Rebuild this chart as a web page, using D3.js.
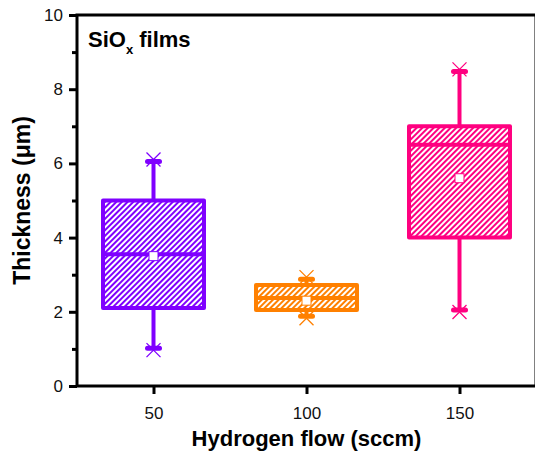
<!DOCTYPE html>
<html>
<head>
<meta charset="utf-8">
<script src="https://cdn.jsdelivr.net/npm/d3@7"></script>
<style>
  body { margin: 0; background: #fff; }
  svg { display: block; font-family: "Liberation Sans", Arial, sans-serif; }
</style>
</head>
<body>
<script>
const width = 535;
const height = 455;
const margin = { top: 15, right: -1, bottom: 69, left: 77 };

// Data
const categories = [50, 100, 150];
const whiskerLow = [1.02, 1.88, 2.05];
const q1 = [2.1, 2.05, 4.0];
const medians = [3.55, 2.37, 6.5];
const q3 = [5.0, 2.72, 7.0];
const whiskerHigh = [6.05, 2.88, 8.48];
const means = [3.5, 2.3, 5.6];
const colors = ['#7f00ff', '#ff8000', '#ff0080'];
const xTicks = [50, 100, 150];

const x = d3.scaleLinear().domain([25, 175]).range([margin.left, width - margin.right]);
const y = d3.scaleLinear().domain([0, 10]).range([height - margin.bottom, margin.top]);

const svg = d3.select('body').append('svg')
  .attr('width', width)
  .attr('height', height);

// hatch patterns
const defs = svg.append('defs');
colors.forEach((c, i) => {
  const p = defs.append('pattern')
    .attr('id', 'hatch' + i)
    .attr('patternUnits', 'userSpaceOnUse')
    .attr('width', 4)
    .attr('height', 4)
    .attr('patternTransform', 'rotate(45)');
  p.append('rect').attr('width', 4).attr('height', 4).attr('fill', '#fff');
  p.append('line')
    .attr('x1', 1).attr('y1', 0).attr('x2', 1).attr('y2', 4)
    .attr('stroke', c).attr('stroke-width', 2);
});

const halfW = 16.5; // box half width in sccm

const boxes = categories.map((c, i) => ({
  c, lo: whiskerLow[i], q1: q1[i], med: medians[i], q3: q3[i], hi: whiskerHigh[i], mean: means[i], color: colors[i], i
}));

const g = svg.append('g').selectAll('g').data(boxes).enter().append('g');

// whiskers
g.append('line')
  .attr('x1', d => x(d.c)).attr('x2', d => x(d.c))
  .attr('y1', d => y(d.hi)).attr('y2', d => y(d.q3))
  .attr('stroke', d => d.color).attr('stroke-width', 4);
g.append('line')
  .attr('x1', d => x(d.c)).attr('x2', d => x(d.c))
  .attr('y1', d => y(d.lo)).attr('y2', d => y(d.q1))
  .attr('stroke', d => d.color).attr('stroke-width', 4);

// caps
['hi', 'lo'].forEach(k => {
  g.append('line')
    .attr('x1', d => x(d.c) - 6).attr('x2', d => x(d.c) + 6)
    .attr('y1', d => y(d[k])).attr('y2', d => y(d[k]))
    .attr('stroke', d => d.color).attr('stroke-width', 5)
    .attr('stroke-linecap', 'round');
  // x markers
  g.append('path')
    .attr('d', d => {
      const cx = x(d.c), cy = y(d[k]) + (k === 'hi' ? -2 : 2), s = 7;
      return `M${cx - s},${cy - s}L${cx + s},${cy + s}M${cx - s},${cy + s}L${cx + s},${cy - s}`;
    })
    .attr('stroke', d => d.color).attr('stroke-width', 1.3).attr('fill', 'none');
});

// boxes
g.append('rect')
  .attr('x', d => x(d.c - halfW))
  .attr('width', d => x(d.c + halfW) - x(d.c - halfW))
  .attr('y', d => y(d.q3))
  .attr('height', d => y(d.q1) - y(d.q3))
  .attr('fill', d => `url(#hatch${d.i})`)
  .attr('stroke', d => d.color)
  .attr('stroke-width', 4)
  .attr('stroke-linejoin', 'round');

// medians
g.append('line')
  .attr('x1', d => x(d.c - halfW)).attr('x2', d => x(d.c + halfW))
  .attr('y1', d => y(d.med)).attr('y2', d => y(d.med))
  .attr('stroke', d => d.color).attr('stroke-width', 4);

// means
g.append('rect')
  .attr('x', d => x(d.c) - 4.5).attr('y', d => y(d.mean) - 4.5)
  .attr('width', 9).attr('height', 9)
  .attr('fill', '#fff')
  .attr('stroke', d => d.color).attr('stroke-width', 1);

// frame
svg.append('rect')
  .attr('x', margin.left).attr('y', margin.top)
  .attr('width', width - margin.right - margin.left)
  .attr('height', height - margin.bottom - margin.top)
  .attr('fill', 'none').attr('stroke', '#000').attr('stroke-width', 3);

// y axis
const yMajor = svg.append('g')
  .attr('transform', `translate(${margin.left},0)`)
  .call(d3.axisLeft(y).tickValues([0, 2, 4, 6, 8, 10]).tickSize(8).tickPadding(6).tickFormat(d3.format('d')));
const yMinor = svg.append('g')
  .attr('transform', `translate(${margin.left},0)`)
  .call(d3.axisLeft(y).tickValues([1, 3, 5, 7, 9]).tickSize(5).tickFormat(''));

// x axis
const xAxis = svg.append('g')
  .attr('transform', `translate(0,${height - margin.bottom})`)
  .call(d3.axisBottom(x).tickValues(xTicks).tickSize(8).tickPadding(13));

[yMajor, yMinor, xAxis].forEach(a => {
  a.select('.domain').remove();
  a.selectAll('line').attr('stroke', '#000').attr('stroke-width', 3);
  a.selectAll('text').attr('font-size', 17).attr('fill', '#111')
    .attr('font-family', '"Liberation Sans", Arial, sans-serif');
});

// titles
svg.append('text')
  .attr('transform', `translate(30,${(margin.top + height - margin.bottom) / 2}) rotate(-90)`)
  .attr('text-anchor', 'middle')
  .attr('font-size', 23).attr('font-weight', 'bold')
  .text('Thickness (μm)');

svg.append('text')
  .attr('x', (margin.left + width - margin.right) / 2)
  .attr('y', 446)
  .attr('text-anchor', 'middle')
  .attr('font-size', 22).attr('font-weight', 'bold')
  .text('Hydrogen flow (sccm)');

const label = svg.append('text')
  .attr('x', 88).attr('y', 47)
  .attr('font-size', 22).attr('font-weight', 'bold');
label.append('tspan').text('SiO');
label.append('tspan').attr('dy', 7).attr('font-size', 13).text('x');
label.append('tspan').attr('dy', -7).text(' films');
</script>
</body>
</html>
